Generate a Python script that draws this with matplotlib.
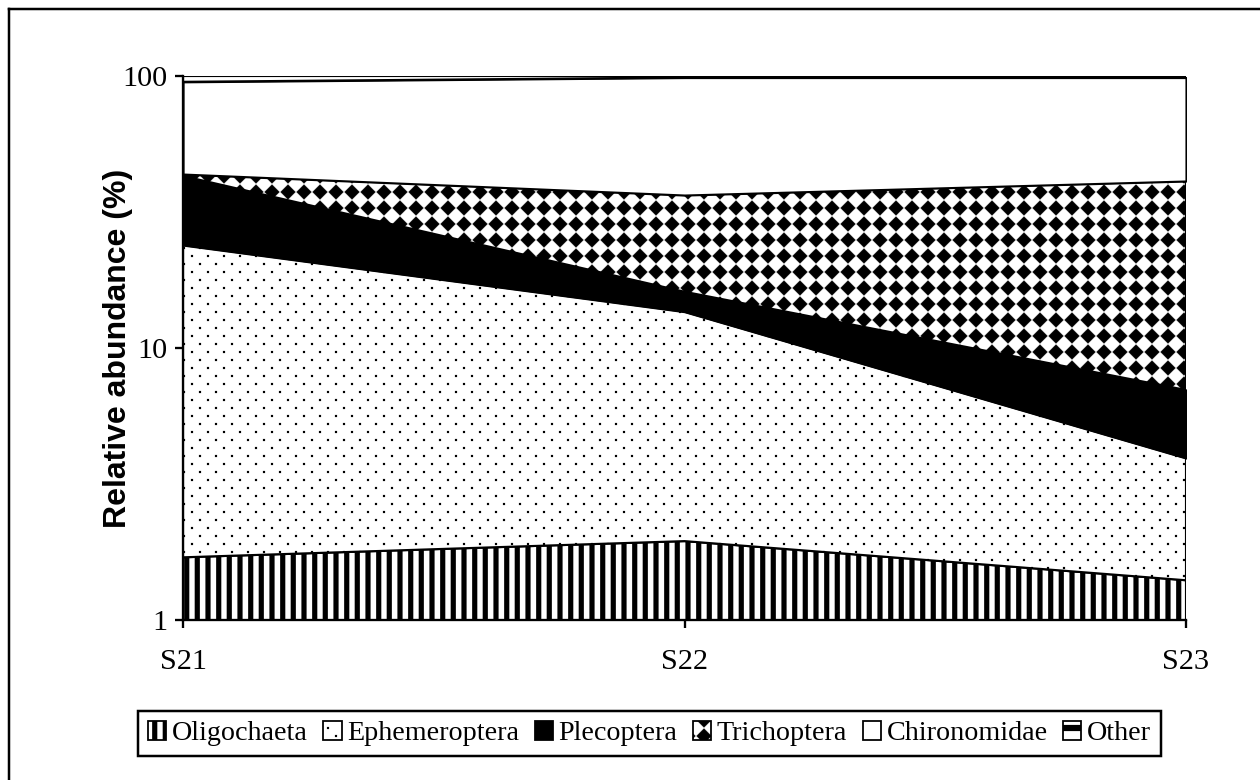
import numpy as np
import matplotlib
matplotlib.use('Agg')
import matplotlib.pyplot as plt
import matplotlib.hatch as mhatch
from matplotlib.path import Path
from matplotlib.patches import Patch
from matplotlib.lines import Line2D

# data (% of individuals per site)
sites = ['S21', 'S22', 'S23']
groups = ['Oligochaeta', 'Ephemeroptera', 'Plecoptera', 'Trichoptera', 'Chironomidae', 'Other']
oligochaeta = [1.70, 1.95, 1.40]
ephemeroptera = [22.2, 11.65, 2.54]
plecoptera = [19.0, 2.5, 3.07]
trichoptera = [0.7, 20.4, 34.1]
chironomidae = [51.6, 62.2, 57.6]
other = [4.8, 1.3, 1.3]

DPI = 128  # one hatch tile = one inch = 128 px


# excel-like fill patterns, drawn as filled polygons in the unit hatch tile
class TilePattern(mhatch.HatchPatternBase):
    char = None

    def __init__(self, hatch, density):
        self.polys = self.make() if (hatch and self.char in hatch) else []
        self.num_vertices = 5 * len(self.polys)

    def set_vertices_and_codes(self, vertices, codes):
        vertices[:] = np.concatenate(self.polys)
        codes[:] = np.tile([Path.MOVETO, Path.LINETO, Path.LINETO, Path.LINETO, Path.CLOSEPOLY],
                           len(self.polys))


def rect(x0, y0, x1, y1):
    return np.array([[x0, y0], [x1, y0], [x1, y1], [x0, y1], [x0, y0]])


def diamond(cx, cy, r):
    return np.array([[cx + r, cy], [cx, cy + r], [cx - r, cy], [cx, cy - r], [cx + r, cy]])


class Stripes(TilePattern):  # oligochaeta: wide vertical stripes
    char = '|'

    def make(self):
        n = 12
        w = 5.0 / DPI
        return [rect((i + 0.5) / n - w / 2, -0.05, (i + 0.5) / n + w / 2, 1.05) for i in range(n)]


class Dots(TilePattern):  # ephemeroptera: sparse dots
    char = '.'

    def make(self):
        m = 8
        s = 2.0 / DPI
        out = []
        for j in range(2 * m + 1):
            y = j / (2 * m)
            xs = [i / m for i in range(m + 1)] if j % 2 == 0 else [(i + 0.5) / m for i in range(m)]
            for x in xs:
                out.append(rect(x - s / 2, y - s / 2, x + s / 2, y + s / 2))
        return out


class Diamonds(TilePattern):  # trichoptera: diamond checker
    char = '*'

    def make(self):
        n = 8
        r = 7.5 / DPI
        return [diamond(i / n, j / n, r) for i in range(n + 1) for j in range(n + 1)]


class Bars(TilePattern):  # other: horizontal bars
    char = '-'

    def make(self):
        n = 8
        w = 6.0 / DPI
        return [rect(-0.05, (i + 0.5) / n - w / 2, 1.05, (i + 0.5) / n + w / 2) for i in range(n)]


mhatch._hatch_types = [Stripes, Dots, Diamonds, Bars]

plt.rcParams['hatch.linewidth'] = 0.1
plt.rcParams['hatch.color'] = 'black'
plt.rcParams['font.family'] = ['Liberation Serif', 'DejaVu Serif']

styles = [('white', '|'), ('white', '.'), ('black', None), ('white', '*'), ('white', None), ('white', '-')]

fig = plt.figure(figsize=(1260 / DPI, 780 / DPI), dpi=DPI)
ax = fig.add_axes([183 / 1260, 1 - 620 / 780, (1186 - 183) / 1260, (620 - 76) / 780])

x = np.arange(len(sites))
layers = np.array([oligochaeta, ephemeroptera, plecoptera, trichoptera, chironomidae, other])
tops = np.cumsum(layers, axis=0)
bottoms = np.vstack([np.zeros(len(sites)), tops[:-1]])

ax.set_yscale('log')
handles = []
for k, name in enumerate(groups):
    fc, h = styles[k]
    ax.fill_between(x, bottoms[k], tops[k], facecolor=fc, edgecolor='black',
                    hatch=h, linewidth=1.2, zorder=2)
    handles.append(Patch(facecolor=fc, edgecolor='black', hatch=h, linewidth=1.0, label=name))

ax.set_xlim(0, 2)
ax.set_ylim(1, 100)
ax.set_xticks(x)
ax.set_xticklabels(sites)
ax.yaxis.set_major_locator(matplotlib.ticker.FixedLocator([1, 10, 100]))
ax.yaxis.set_minor_locator(matplotlib.ticker.NullLocator())
ax.set_yticklabels(['1', '10', '100'])
ax.tick_params(axis='both', direction='out', length=4.5, width=1.3, labelsize=17)
ax.tick_params(axis='y', pad=4)
ax.tick_params(axis='x', pad=12)
for side in ['top', 'right']:
    ax.spines[side].set_visible(False)
for side in ['left', 'bottom']:
    ax.spines[side].set_linewidth(1.3)
    ax.spines[side].set_zorder(3)

ax.set_ylabel('Relative abundance (%)', fontsize=18, fontweight='bold',
              family=['Liberation Sans', 'DejaVu Sans'])
ax.yaxis.set_label_coords((133 - 183) / 1003, 0.5)

leg = fig.legend(handles=handles, loc='center', bbox_to_anchor=(649.5 / 1260, 1 - 733.5 / 780),
                 ncol=6, fontsize=15.8, frameon=True, fancybox=False, framealpha=1,
                 edgecolor='black', handlelength=0.65, handleheight=0.65, handletextpad=0.2,
                 columnspacing=0.55, borderpad=0.35, borderaxespad=0)
leg.get_frame().set_linewidth(1.4)

# outer frame of the chart area (left and top edges only visible)
fig.add_artist(Line2D([9 / 1260, 9 / 1260], [0, 1 - 9 / 780], color='black', lw=1.4,
                      transform=fig.transFigure))
fig.add_artist(Line2D([9 / 1260, 1], [1 - 9 / 780, 1 - 9 / 780], color='black', lw=1.4,
                      transform=fig.transFigure))

fig.savefig('out.png', dpi=DPI)
